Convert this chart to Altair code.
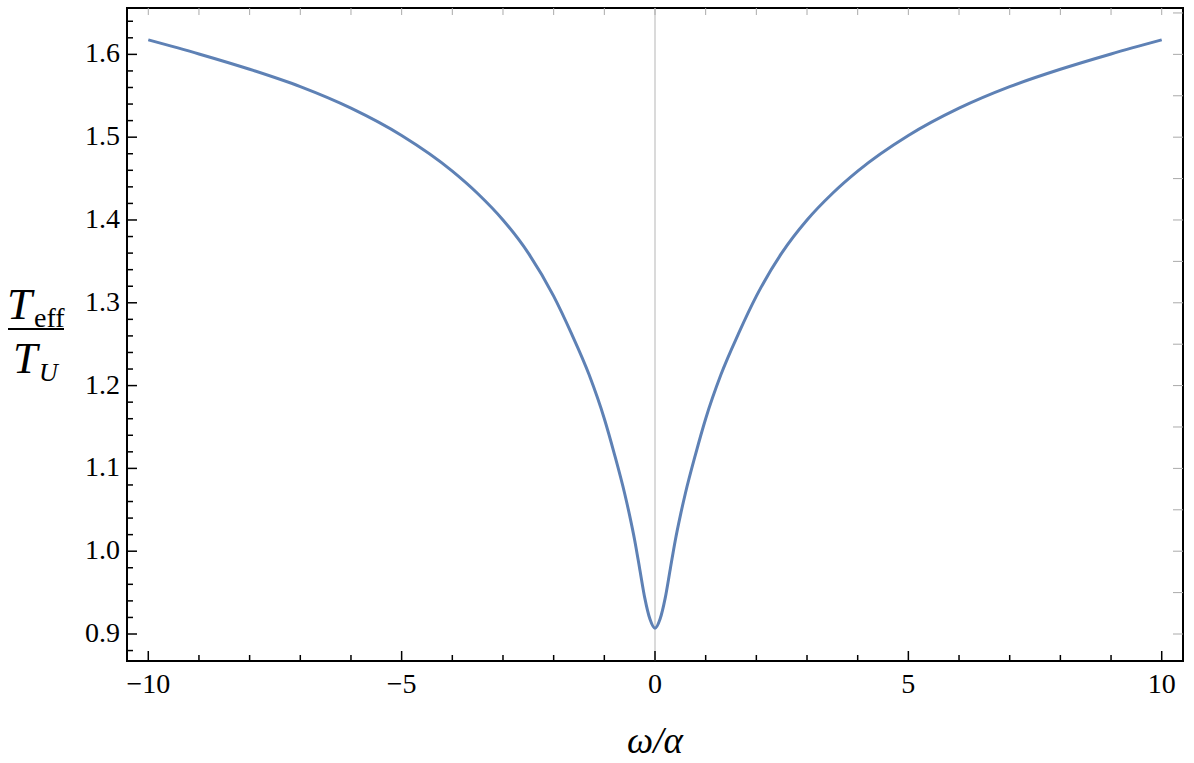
import altair as alt
import pandas as pd

# curve values
omega = [-10.0, -9.0, -8.0, -7.0, -6.0, -5.0, -4.0, -3.5, -3.0, -2.5, -2.0, -1.65, -1.3, -1.0,
         -0.8, -0.6, -0.5, -0.4, -0.3, -0.2, -0.1, 0.0, 0.1, 0.2, 0.3, 0.4, 0.5, 0.6, 0.8, 1.0,
         1.3, 1.65, 2.0, 2.5, 3.0, 3.5, 4.0, 5.0, 6.0, 7.0, 8.0, 9.0, 10.0]
ratio = [1.6175, 1.6005, 1.582, 1.561, 1.535, 1.502, 1.459, 1.432, 1.400, 1.360, 1.308, 1.263, 1.213, 1.160,
         1.117, 1.070, 1.043, 1.013, 0.978, 0.943, 0.918, 0.907, 0.918, 0.943, 0.978, 1.013, 1.043, 1.070, 1.117, 1.160,
         1.213, 1.263, 1.308, 1.360, 1.400, 1.432, 1.459, 1.502, 1.535, 1.561, 1.582, 1.6005, 1.6175]

# tick positions and labels
x_major = [-10, -5, 0, 5, 10]
x_labels = ["\u221210", "\u22125", "0", "5", "10"]
x_minor = [-9, -8, -7, -6, -4, -3, -2, -1, 1, 2, 3, 4, 6, 7, 8, 9]
x_top = [-10, -9, -8, -7, -6, -5, -4, -3, -2, -1, 0, 1, 2, 3, 4, 5, 6, 7, 8, 9, 10]
y_major = [0.9, 1.0, 1.1, 1.2, 1.3, 1.4, 1.5, 1.6]
y_labels = ["0.9", "1.0", "1.1", "1.2", "1.3", "1.4", "1.5", "1.6"]
y_minor = [0.88, 0.92, 0.94, 0.96, 0.98, 1.02, 1.04, 1.06, 1.08, 1.12, 1.14, 1.16, 1.18,
           1.22, 1.24, 1.26, 1.28, 1.32, 1.34, 1.36, 1.38, 1.42, 1.44, 1.46, 1.48,
           1.52, 1.54, 1.56, 1.58, 1.62, 1.64]
y_right = [0.9, 0.95, 1.0, 1.05, 1.1, 1.15, 1.2, 1.25, 1.3, 1.35, 1.4, 1.45, 1.5, 1.55, 1.6, 1.65]
zero_line = [0]

W, H = 1056, 653
FONT = "Liberation Serif"
xs = alt.Scale(domain=[-10.42, 10.42], nice=False, zero=False)
ys = alt.Scale(domain=[0.8674, 1.656], nice=False, zero=False)

curve_df = pd.DataFrame({"omega": omega, "ratio": ratio})

curve = alt.Chart(curve_df).mark_line(
    interpolate="monotone", color="#5E81B5", strokeWidth=3
).encode(
    x=alt.X("omega:Q", scale=xs, axis=None),
    y=alt.Y("ratio:Q", scale=ys, axis=None),
)

zero = alt.Chart(pd.DataFrame({"v": zero_line})).mark_rule(color="#b5b5b5", strokeWidth=1).encode(
    x=alt.X("v:Q", scale=xs, axis=None))


def xticks(vals, y1, y2, color, sw):
    return alt.Chart(pd.DataFrame({"v": vals})).mark_rule(color=color, strokeWidth=sw).encode(
        x=alt.X("v:Q", scale=xs, axis=None), y=alt.value(y1), y2=alt.value(y2))


def yticks(vals, x1, x2, color, sw):
    return alt.Chart(pd.DataFrame({"v": vals})).mark_rule(color=color, strokeWidth=sw).encode(
        y=alt.Y("v:Q", scale=ys, axis=None), x=alt.value(x1), x2=alt.value(x2))


xlab = alt.Chart(pd.DataFrame({"v": x_major, "t": x_labels})).mark_text(
    font=FONT, fontSize=28, align="center", baseline="alphabetic", color="black"
).encode(x=alt.X("v:Q", scale=xs, axis=None), y=alt.value(H + 32), text="t:N")

ylab = alt.Chart(pd.DataFrame({"v": y_major, "t": y_labels})).mark_text(
    font=FONT, fontSize=28, align="right", baseline="middle", color="black"
).encode(y=alt.Y("v:Q", scale=ys, axis=None), x=alt.value(-7), text="t:N")


def label(txt, x, y, size, style="normal"):
    return alt.Chart(pd.DataFrame({"a": [0]})).mark_text(
        font=FONT, fontSize=size, fontStyle=style, align="left", baseline="alphabetic", color="black"
    ).encode(x=alt.value(x), y=alt.value(y), text=alt.value(txt))


frac_line = alt.Chart(pd.DataFrame({"a": [0]})).mark_rule(color="black", strokeWidth=2).encode(
    x=alt.value(-119), x2=alt.value(-63), y=alt.value(321))

xtitle = alt.Chart(pd.DataFrame({"a": [0]})).mark_text(
    font=FONT, fontSize=37, fontStyle="italic", align="center", baseline="alphabetic", color="black"
).encode(x=alt.value(528), y=alt.value(745), text=alt.value("ω/α"))

chart = alt.layer(
    zero,
    curve,
    xticks(x_major, H, H - 10, "black", 1.5),
    xticks(x_minor, H, H - 6, "black", 1.5),
    xticks(x_top, 0, 7, "#aaaaaa", 1),
    yticks(y_major, 0, 10, "black", 1.5),
    yticks(y_minor, 0, 6, "black", 1.5),
    yticks(y_right, W, W - 10, "#aaaaaa", 1),
    xlab,
    ylab,
    label("T", -120, 311, 45, "italic"),
    label("eff", -93, 319, 28),
    frac_line,
    label("T", -114, 365, 44, "italic"),
    label("U", -88, 373, 26, "italic"),
    xtitle,
).properties(
    width=W, height=H,
    autosize=alt.AutoSizeParams(type="none"),
    padding={"left": 127, "top": 8, "right": 11, "bottom": 102},
    background="white",
).configure_view(stroke="black", strokeWidth=2)

chart.save("out.html", embed_options={"renderer": "svg", "actions": False})
